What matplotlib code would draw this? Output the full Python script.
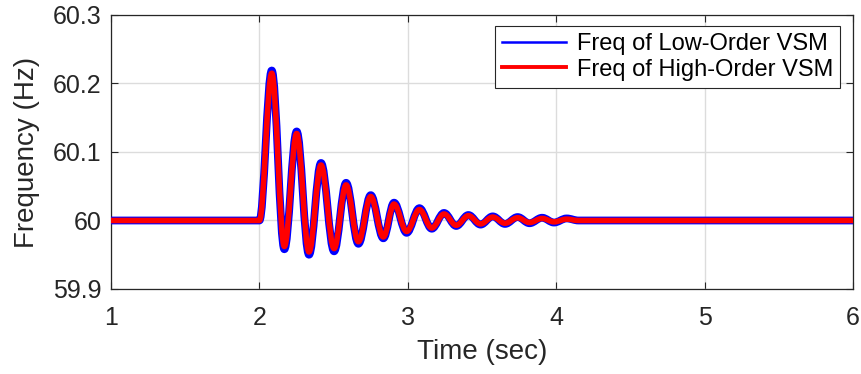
import matplotlib
matplotlib.use('Agg')
import matplotlib.pyplot as plt
from matplotlib.path import Path
from matplotlib.patches import PathPatch
from matplotlib.lines import Line2D

# extrema of the frequency traces (time in s, freq in Hz)
time_pts = [1.0, 2.0, 2.083, 2.168, 2.251, 2.334, 2.415, 2.503, 2.584, 2.667,
            2.75, 2.835, 2.907, 2.992, 3.078, 3.161, 3.244, 3.326, 3.408, 3.49,
            3.572, 3.655, 3.74, 3.82, 3.905, 3.985, 4.07, 4.15, 6.0]
freq_high = [60.0, 60.0, 60.215, 59.962, 60.127, 59.954, 60.081, 59.959, 60.052, 59.969,
             60.035, 59.976, 60.024, 59.984, 60.016, 59.989, 60.0095, 59.993, 60.007, 59.995,
             60.005, 59.996, 60.004, 59.997, 60.003, 59.998, 60.002, 60.0, 60.0]
freq_low = [60.0, 60.0, 60.219, 59.958, 60.130, 59.950, 60.084, 59.955, 60.055, 59.966,
            60.037, 59.974, 60.026, 59.982, 60.018, 59.988, 60.011, 59.992, 60.008, 59.994,
            60.006, 59.995, 60.005, 59.996, 60.004, 59.997, 60.003, 60.0, 60.0]

x_ticks = [1, 2, 3, 4, 5, 6]
y_ticks = [59.9, 60.0, 60.1, 60.2, 60.3]
y_tick_labels = ['59.9', '60', '60.1', '60.2', '60.3']

plt.rcParams['font.family'] = ['Liberation Sans', 'DejaVu Sans']


def smooth_path(ts, ys):
	# half-cosine shaped cubic segments between consecutive extrema
	verts = [(ts[0], ys[0])]
	codes = [Path.MOVETO]
	for i in range(1, len(ts)):
		dt = ts[i] - ts[i - 1]
		verts += [(ts[i - 1] + 0.3634 * dt, ys[i - 1]), (ts[i] - 0.3634 * dt, ys[i]), (ts[i], ys[i])]
		codes += [Path.CURVE4] * 3
	return Path(verts, codes)


fig = plt.figure(figsize=(8.62, 3.74), dpi=100)
ax = fig.add_axes([0.1288, 0.2273, 0.8608, 0.7326])

dark = '#262626'
ax.add_patch(PathPatch(smooth_path(time_pts, freq_low), fill=False, edgecolor='#0000ff',
                       lw=5.6, capstyle='round', joinstyle='round', zorder=3))
ax.add_patch(PathPatch(smooth_path(time_pts, freq_high), fill=False, edgecolor='#ff0000',
                       lw=4.0, capstyle='round', joinstyle='round', zorder=4))

ax.set_xlim(1, 6)
ax.set_ylim(59.9, 60.3)
ax.set_xticks(x_ticks)
ax.set_yticks(y_ticks)
ax.set_yticklabels(y_tick_labels)
ax.grid(True, color='#dcdcdc', lw=1.0)
ax.set_axisbelow(True)
ax.tick_params(direction='in', length=5, width=0.8, colors=dark, labelsize=18,
               top=True, right=True)
ax.tick_params(axis='x', pad=12)
ax.tick_params(axis='y', pad=7)
for sp in ax.spines.values():
	sp.set_color(dark)
	sp.set_linewidth(0.9)

ax.set_xlabel('Time (sec)', fontsize=20, color=dark, labelpad=7)
ax.set_ylabel('Frequency (Hz)', fontsize=20, color=dark, labelpad=9)

handles = [Line2D([], [], color='#0000ff', lw=1.8),
           Line2D([], [], color='#ff0000', lw=2.8)]
leg = ax.legend(handles, ['Freq of Low-Order VSM', 'Freq of High-Order VSM'],
                loc='upper right', bbox_to_anchor=(0.9825, 0.96), borderaxespad=0,
                fontsize=17, fancybox=False, framealpha=1, edgecolor=dark,
                handlelength=2.7, handletextpad=0.45, labelspacing=0.15,
                borderpad=0.3)
leg.get_frame().set_linewidth(0.8)

fig.savefig('out.png', dpi=100)
